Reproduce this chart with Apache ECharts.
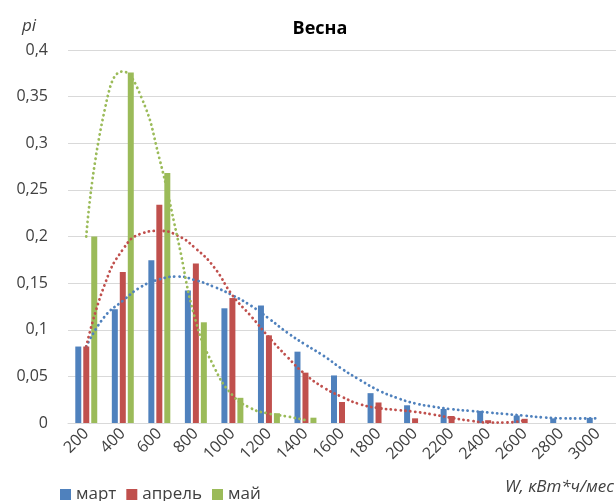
<!DOCTYPE html>
<html>
<head>
<meta charset="utf-8">
<script src="https://cdn.jsdelivr.net/npm/echarts@6/dist/echarts.min.js"></script>
<style>
  html, body { margin: 0; padding: 0; background: #ffffff; }
  #chart { width: 616px; height: 501px; }
</style>
</head>
<body>
<div id="chart"></div>
<script>
// Consumption bins, kWh per month
const categories = ['200', '400', '600', '800', '1000', '1200', '1400', '1600',
  '1800', '2000', '2200', '2400', '2600', '2800', '3000'];

// Relative frequencies per month
const march = [0.082, 0.122, 0.1745, 0.142, 0.123, 0.126, 0.0765, 0.051,
  0.032, 0.019, 0.015, 0.013, 0.008, 0.005, 0.0055];
const april = [0.082, 0.162, 0.234, 0.171, 0.134, 0.094, 0.054, 0.0225,
  0.022, 0.005, 0.0075, 0.003, 0.0045, null, null];
const may = [0.2, 0.376, 0.268, 0.108, 0.027, 0.0105, 0.0057, null,
  null, null, null, null, null, null, null];

// Trend curves, sampled every 100 kWh
const trendMarchW = [200, 300, 400, 500, 600, 700, 800, 900, 1000, 1100, 1200, 1300, 1400, 1500,
  1600, 1700, 1800, 1900, 2000, 2100, 2200, 2300, 2400, 2500, 2600, 2700, 2800, 2900, 3000];
const trendMarch = [0.082, 0.114, 0.131, 0.146, 0.154, 0.157, 0.153, 0.146, 0.137, 0.126, 0.112,
  0.097, 0.084, 0.072, 0.058, 0.046, 0.035, 0.027, 0.021, 0.0175, 0.0148, 0.013, 0.0113, 0.0095,
  0.0078, 0.006, 0.005, 0.0048, 0.005];

const trendAprilW = [200, 300, 400, 500, 600, 700, 800, 900, 1000, 1100, 1200, 1300, 1400,
  1500, 1600, 1700, 1800, 1900, 2000, 2100, 2200, 2300, 2400, 2500, 2600];
const trendApril = [0.082, 0.148, 0.186, 0.203, 0.206, 0.201, 0.187, 0.167, 0.137, 0.115, 0.092,
  0.071, 0.052, 0.038, 0.028, 0.020, 0.016, 0.014, 0.012, 0.009, 0.0055, 0.0025, 0.0005, 0.0005, 0.003];

const trendMayW = [200, 300, 400, 500, 600, 700, 800, 900, 1000, 1100, 1200, 1300, 1400];
const trendMay = [0.2, 0.335, 0.377, 0.350, 0.284, 0.198, 0.109, 0.060, 0.030, 0.016, 0.010, 0.007, 0.003];

const seriesNames = ['март', 'апрель', 'май'];
const colors = ['#4F81BD', '#C0504D', '#9BBB59'];

const FONT = '"Open Sans", "Liberation Sans", sans-serif';
const TEXT = '#404040';

function pairs(xs, ys) {
  return xs.map((x, i) => [x, ys[i]]);
}

function trend(name, xs, ys, color) {
  return {
    name: name,
    type: 'line',
    xAxisIndex: 1,
    data: pairs(xs, ys),
    smooth: 0.5,
    symbol: 'none',
    silent: true,
    z: 5,
    lineStyle: { color: color, width: 2.8, type: [0.1, 4.8], cap: 'round' }
  };
}

function bars(name, values, color) {
  return {
    name: name,
    type: 'bar',
    data: values,
    barWidth: 6,
    barGap: '33%',
    itemStyle: { color: color },
    z: 2
  };
}

const chart = echarts.init(document.getElementById('chart'), null, { renderer: 'canvas' });

chart.setOption({
  animation: false,
  backgroundColor: '#ffffff',
  textStyle: { fontFamily: FONT },
  title: {
    text: 'Весна',
    left: 315,
    top: 15,
    textAlign: 'center',
    textStyle: { fontFamily: FONT, fontWeight: 'bold', fontSize: 18, color: '#000000' }
  },
  grid: { left: 68, top: 50, width: 553.5, height: 373, containLabel: false },
  legend: {
    data: seriesNames,
    left: 55,
    top: 481,
    icon: 'rect',
    itemWidth: 11,
    itemHeight: 11,
    itemGap: 10,
    textStyle: { fontFamily: FONT, fontSize: 17, color: TEXT }
  },
  xAxis: [
    {
      type: 'category',
      data: categories,
      axisLine: { show: true, lineStyle: { color: '#d9d9d9', width: 1 } },
      axisTick: { show: false },
      axisLabel: { rotate: 45, margin: 8, fontSize: 16, color: TEXT, fontFamily: FONT, interval: 0 },
      splitLine: { show: false }
    },
    {
      type: 'value',
      min: 100,
      max: 3100,
      show: false
    }
  ],
  yAxis: {
    type: 'value',
    min: 0,
    max: 0.4,
    interval: 0.05,
    axisLine: { show: false },
    axisTick: { show: false },
    axisLabel: {
      margin: 20,
      fontSize: 16,
      color: TEXT,
      fontFamily: FONT,
      formatter: v => String(+v.toFixed(2)).replace('.', ',')
    },
    splitLine: { lineStyle: { color: '#d9d9d9', width: 1 } }
  },
  graphic: [
    {
      type: 'text',
      left: 22,
      top: 18,
      style: { text: 'pi', font: 'italic 17px ' + FONT, fill: TEXT }
    },
    {
      type: 'text',
      right: 2,
      top: 479,
      style: { text: 'W, кВт*ч/мес', font: 'italic 17px ' + FONT, fill: TEXT }
    }
  ],
  series: [
    bars(seriesNames[0], march, colors[0]),
    bars(seriesNames[1], april, colors[1]),
    bars(seriesNames[2], may, colors[2]),
    trend('тренд март', trendMarchW, trendMarch, colors[0]),
    trend('тренд апрель', trendAprilW, trendApril, colors[1]),
    trend('тренд май', trendMayW, trendMay, colors[2])
  ]
});
</script>
</body>
</html>
